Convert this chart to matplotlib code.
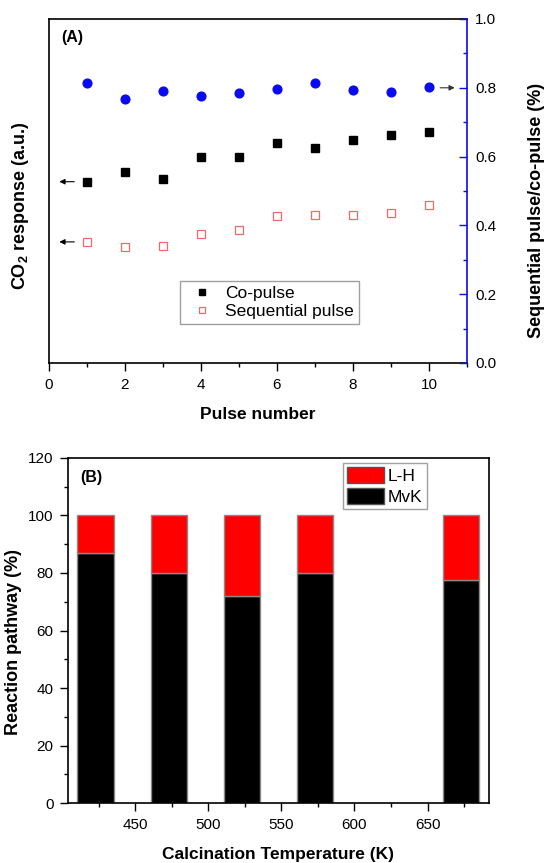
import numpy as np
import matplotlib
matplotlib.use("Agg")
import matplotlib.pyplot as plt
from matplotlib.ticker import MultipleLocator
from matplotlib.patches import Patch

plt.rcParams['font.family'] = ['Liberation Sans', 'DejaVu Sans']
plt.rcParams['mathtext.fontset'] = 'custom'
plt.rcParams['mathtext.rm'] = 'Liberation Sans:bold'
plt.rcParams['mathtext.bf'] = 'Liberation Sans:bold'

# (A) pulse experiment
pulse = np.arange(1, 11)
co_pulse = [0.527, 0.554, 0.535, 0.600, 0.600, 0.640, 0.624, 0.647, 0.664, 0.672]
seq_pulse = [0.352, 0.337, 0.340, 0.376, 0.386, 0.427, 0.430, 0.430, 0.437, 0.459]
ratio = [0.813, 0.767, 0.790, 0.777, 0.785, 0.797, 0.813, 0.794, 0.787, 0.802]

# (B) reaction pathway
calc_T = [423, 473, 523, 573, 673]
mvk = [87, 80, 72, 80, 77.5]
lh = [13, 20, 28, 20, 22.5]

tick_fs = 11
lab_fs = 12.5
ylab_fs = 13
leg_fs = 12.5
blue = '#0a0af0'

fig = plt.figure(figsize=(5.46, 8.63), dpi=100)

# ---------- panel A ----------
ax = fig.add_axes([0.0897, 0.5794, 0.7656, 0.3986])
ax2 = ax.twinx()

ax.plot(pulse, co_pulse, 's', color='k', ms=6, label='Co-pulse')
ax.plot(pulse, seq_pulse, 's', mfc='none', mec='#f06868', mew=0.9, ms=6,
        label='Sequential pulse')
ax2.plot(pulse, ratio, 'o', color=blue, ms=6.3)

ax.set_xlim(0, 11)
ax.set_ylim(0, 1)
ax2.set_ylim(0, 1)
ax.xaxis.set_major_locator(MultipleLocator(2))
ax.xaxis.set_minor_locator(MultipleLocator(1))
ax.tick_params(axis='x', which='major', direction='out', length=5.5, width=1,
               labelsize=tick_fs, pad=5)
ax.tick_params(axis='x', which='minor', direction='out', length=3, width=1)
ax.tick_params(axis='y', which='both', left=False, labelleft=False, right=False)
ax.spines['right'].set_visible(False)

ax2.yaxis.set_major_locator(MultipleLocator(0.2))
ax2.yaxis.set_minor_locator(MultipleLocator(0.1))
ax2.tick_params(axis='y', which='major', direction='in', length=6, width=1,
                color=blue, labelsize=tick_fs, pad=6)
ax2.tick_params(axis='y', which='minor', direction='in', length=3, width=1,
                color=blue)
ax2.spines['right'].set_color(blue)
ax2.spines['right'].set_linewidth(1.2)
for s in ['left', 'top', 'bottom']:
    ax2.spines[s].set_visible(False)
for s in ['left', 'top', 'bottom']:
    ax.spines[s].set_linewidth(1.2)

ax.set_xlabel('Pulse number', fontsize=lab_fs, fontweight='bold', labelpad=11)
ax.set_ylabel(r'CO$_\mathrm{2}$ response (a.u.)', fontsize=ylab_fs,
              fontweight='bold')
ax.yaxis.set_label_coords(-0.043, 0.458)
ax2.set_ylabel('Sequential pulse/co-pulse (%)', fontsize=ylab_fs,
               fontweight='bold')
ax2.yaxis.set_label_coords(1.147, 0.443)
ax.text(0.03, 0.968, '(A)', transform=ax.transAxes, fontsize=11.5,
        fontweight='bold', va='top')

arrow = dict(arrowstyle='-|>', color='k', lw=0.8, mutation_scale=8)
ax.annotate('', xy=(0.2, co_pulse[0]), xytext=(0.74, co_pulse[0]), arrowprops=arrow)
ax.annotate('', xy=(0.2, seq_pulse[0]), xytext=(0.74, seq_pulse[0]), arrowprops=arrow)
ax2.annotate('', xy=(10.75, ratio[-1] - 0.002), xytext=(10.22, ratio[-1] - 0.002),
             arrowprops=dict(arrowstyle='-|>', color='#333333', lw=0.8, mutation_scale=8))

leg = ax.legend(loc='upper left', bbox_to_anchor=(0.292, 0.265), fontsize=leg_fs,
                frameon=True, fancybox=False, edgecolor='#888888',
                handletextpad=0.3, borderpad=0.3, labelspacing=0.15,
                handlelength=2.0, markerscale=0.8)
leg.get_frame().set_linewidth(1)

# ---------- panel B ----------
bx = fig.add_axes([0.1245, 0.0692, 0.771, 0.4004])
bx.bar(calc_T, mvk, width=25, color='k', edgecolor='#8a8a8a', lw=1)
bx.bar(calc_T, lh, bottom=mvk, width=25, color='#ff0000', edgecolor='#8a8a8a', lw=1)

bx.set_xlim(404, 692)
bx.set_ylim(0, 120)
bx.xaxis.set_major_locator(MultipleLocator(50))
bx.xaxis.set_minor_locator(MultipleLocator(25))
bx.yaxis.set_major_locator(MultipleLocator(20))
bx.yaxis.set_minor_locator(MultipleLocator(10))
bx.tick_params(which='major', direction='out', length=5.5, width=1,
               labelsize=tick_fs, pad=5)
bx.tick_params(which='minor', direction='out', length=3, width=1)
for s in bx.spines.values():
    s.set_linewidth(1.2)

bx.set_xlabel('Calcination Temperature (K)', fontsize=lab_fs, fontweight='bold',
              labelpad=11)
bx.set_ylabel('Reaction pathway (%)', fontsize=ylab_fs, fontweight='bold')
bx.yaxis.set_label_coords(-0.109, 0.467)
bx.text(0.03, 0.965, '(B)', transform=bx.transAxes, fontsize=11.5,
        fontweight='bold', va='top')

handles = [Patch(facecolor='#ff0000', edgecolor='#555555', lw=1, label='L-H'),
           Patch(facecolor='k', edgecolor='#555555', lw=1, label='MvK')]
leg2 = bx.legend(handles=handles, loc='upper left', bbox_to_anchor=(0.653, 0.985),
                 fontsize=leg_fs, frameon=True, fancybox=False, edgecolor='#888888',
                 handlelength=2.1, handleheight=1.0, handletextpad=0.25,
                 borderpad=0.25, labelspacing=0.25, borderaxespad=0)
leg2.get_frame().set_linewidth(1)

fig.savefig('out.png', dpi=100)
